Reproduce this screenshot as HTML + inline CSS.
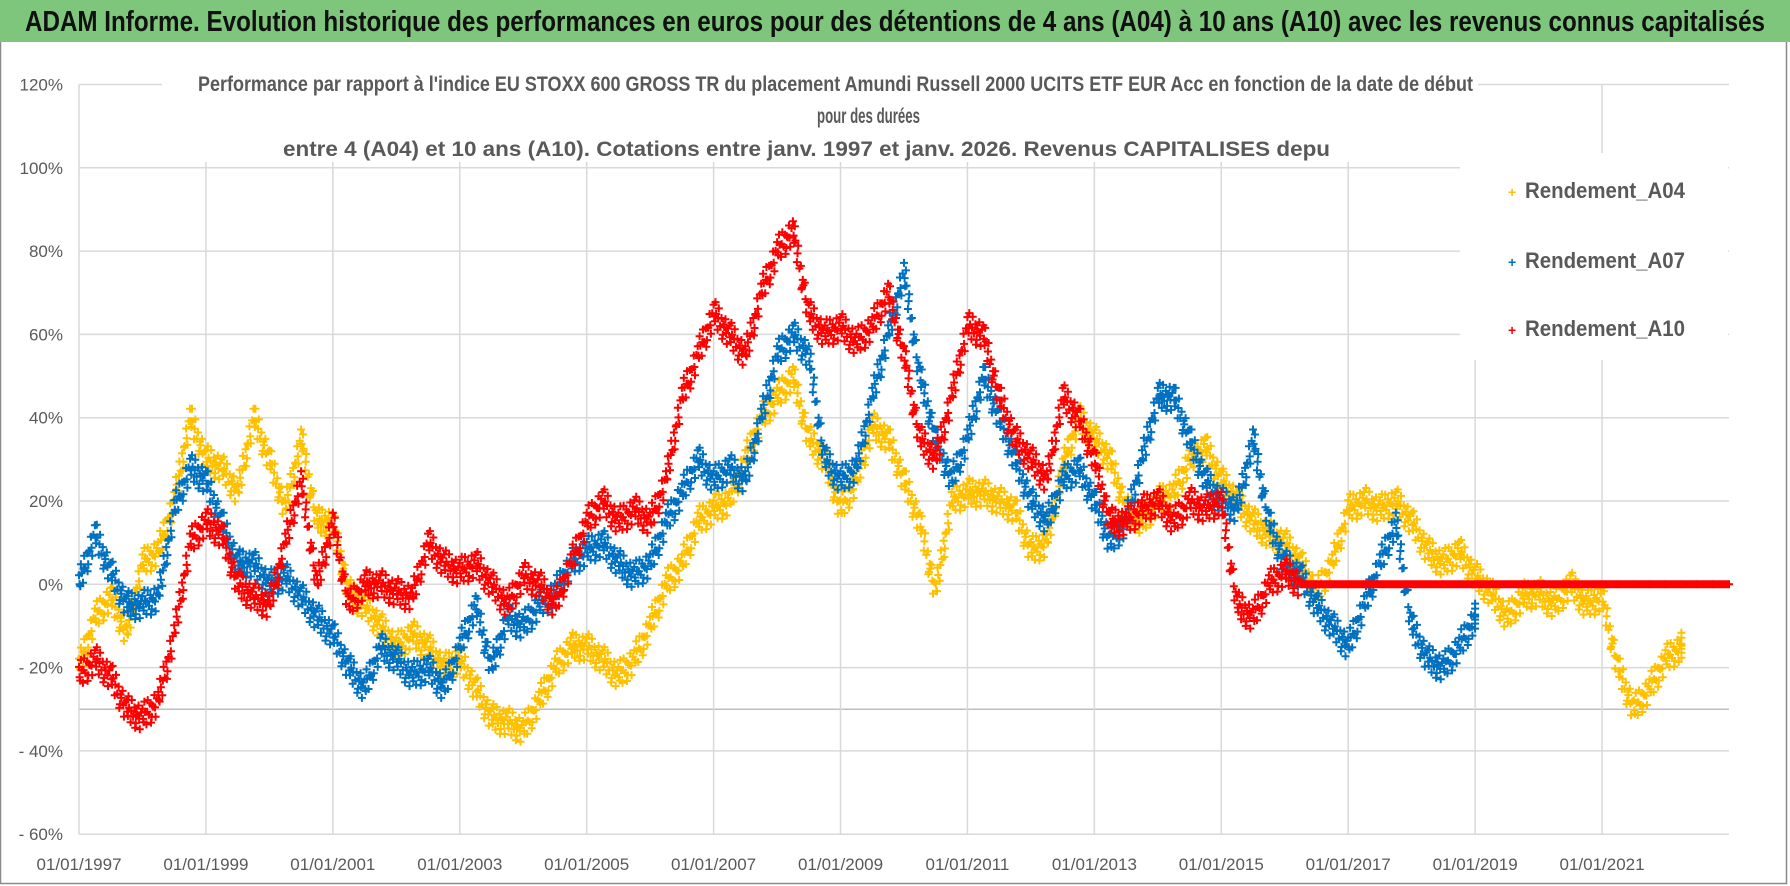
<!DOCTYPE html>
<html><head><meta charset="utf-8"><style>
html,body{margin:0;padding:0;background:#fff;}
svg{display:block;font-family:"Liberation Sans",sans-serif;}
</style></head><body>
<svg id="chart" width="1790" height="886" viewBox="0 0 1790 886" xmlns="http://www.w3.org/2000/svg">
<rect x="0" y="0" width="1790" height="886" fill="#fff"/>
<rect x="0.5" y="0.5" width="1786" height="883" fill="none" stroke="#8a8a8a" stroke-width="1.5"/>
<rect x="0" y="0" width="1790" height="42" fill="#7dc67b"/>
<text x="25" y="31" font-size="29" font-weight="bold" fill="#111" textLength="1740" lengthAdjust="spacingAndGlyphs">ADAM Informe. Evolution historique des performances en euros pour des détentions de 4 ans (A04) à 10 ans (A10) avec les revenus connus capitalisés</text>
<g id="grid"></g>
<g id="marks"></g>
<rect x="162" y="62" width="1316" height="100" fill="#fff"/>
<g font-weight="bold" fill="#595959" font-size="21">
<text x="198" y="91" textLength="1275" lengthAdjust="spacingAndGlyphs">Performance par rapport à l'indice EU STOXX 600 GROSS TR  du placement Amundi Russell 2000 UCITS ETF EUR Acc en fonction de la date de début</text>
<text x="817" y="123" textLength="103" lengthAdjust="spacingAndGlyphs">pour des durées</text>
<text x="283" y="156" textLength="1047" lengthAdjust="spacingAndGlyphs" font-size="21">entre 4 (A04) et 10 ans (A10). Cotations entre janv. 1997 et janv. 2026. Revenus CAPITALISES depu</text>
</g>
<rect x="1460" y="153" width="268" height="207" fill="#fff"/>
<g font-size="22" font-weight="bold" fill="#595959">
<g><text x="1508" y="197" fill="#ffc000" font-size="14">+</text><text x="1525" y="198" textLength="160" lengthAdjust="spacingAndGlyphs">Rendement_A04</text></g>
<g><text x="1508" y="267" fill="#0070c0" font-size="14">+</text><text x="1525" y="268" textLength="160" lengthAdjust="spacingAndGlyphs">Rendement_A07</text></g>
<g><text x="1508" y="335" fill="#ff0000" font-size="14">+</text><text x="1525" y="336" textLength="160" lengthAdjust="spacingAndGlyphs">Rendement_A10</text></g>
</g>
<g id="axes"></g>
</svg>
<script>
const yTicks=[120,100,80,60,40,20,0,-20,-40,-60];
const yTickLabels=["120%","100%","80%","60%","40%","20%","0%","- 20%","- 40%","- 60%"];
const xTicks=[1997,1999,2001,2003,2005,2007,2009,2011,2013,2015,2017,2019,2021];
const xTickLabels=["01/01/1997","01/01/1999","01/01/2001","01/01/2003","01/01/2005","01/01/2007","01/01/2009","01/01/2011","01/01/2013","01/01/2015","01/01/2017","01/01/2019","01/01/2021"];
const startA04=1997, startA07=1997, startA10=1997;
const stepYears=0.25;
const a04=[-20,-8,-3,-12,5,8,20,40,30,28,22,40,30,18,35,15,15,-2,-5,-10,-15,-12,-15,-20,-18,-25,-32,-33,-35,-28,-20,-15,-15,-18,-22,-18,-10,0,5,15,18,20,30,40,45,50,35,30,18,25,38,35,25,15,-2,20,22,22,20,18,8,10,28,40,35,30,18,15,20,22,30,33,25,20,15,12,10,5,-2,5,18,20,18,20,15,8,5,8,2,-2,-8,-3,-2,-5,0,-5,-3,-20,-30,-25,-18,-15];
const a07=[0,12,3,-5,-5,-3,18,28,25,15,5,5,0,2,-3,-8,-12,-20,-25,-15,-18,-22,-20,-25,-15,-5,-20,-8,-10,-5,-2,5,8,10,5,2,5,15,22,30,25,28,25,40,55,60,55,30,25,28,45,60,75,50,35,25,35,50,40,30,20,15,25,28,20,10,15,30,45,45,35,25,20,18,35,15,5,2,-5,-10,-15,-5,5,15,-10,-18,-20,-15,-8];
const a10=[-22,-18,-22,-30,-32,-28,-12,10,15,12,0,-3,-5,10,25,0,15,-5,0,0,-2,-3,10,5,3,5,0,-5,2,0,-5,5,15,20,15,18,15,25,45,55,65,60,55,70,80,85,65,60,62,58,62,70,55,35,30,45,62,60,45,35,30,25,45,40,30,15,15,18,20,15,20,18,20,-5,-8,0,3,0,0,0,0,0,0,0,0,0,0,0,0,0,0,0,0,0,0,0,0,0,0,0,0,0,0,0,0];

const NS="http://www.w3.org/2000/svg";
const X0=79, PXY=63.46, Y0=584.3, PXV=4.165;
function xScale(yr){return X0+(yr-1997)*PXY;}
function yScale(v){return Y0-v*PXV;}
const grid=document.getElementById('grid'), axes=document.getElementById('axes'), marks=document.getElementById('marks');
function mk(tag,attrs,parent){const e=document.createElementNS(NS,tag);for(const k in attrs)e.setAttribute(k,attrs[k]);parent.appendChild(e);return e;}
yTicks.forEach((v,i)=>{
  const l=mk('line',{x1:X0,x2:1729,y1:yScale(v),y2:yScale(v),stroke:'#d9d9d9','stroke-width':1.5},grid);
  
  
  const t=mk('text',{x:63,y:yScale(v)+6,'text-anchor':'end','font-size':17,fill:'#595959'},axes);
  t.textContent=yTickLabels[i];
  
  
});
const l30=mk('line',{x1:X0,x2:1729,y1:yScale(-30),y2:yScale(-30),stroke:'#bfbfbf','stroke-width':1.5},grid);


xTicks.forEach((yr,i)=>{
  const l=mk('line',{x1:xScale(yr),x2:xScale(yr),y1:yScale(120),y2:yScale(-60),stroke:'#d9d9d9','stroke-width':1.5},grid);
  
  
  const t=mk('text',{x:xScale(yr),y:870,'text-anchor':'middle','font-size':17,fill:'#595959'},axes);
  t.textContent=xTickLabels[i];
  
  
});
// marker placement pattern along each segment (style, not data)
const pat=[[0,-9],[0.08,6],[0.16,-3],[0.25,11],[0.33,-12],[0.41,4],[0.5,-6],[0.58,9],[0.66,0],[0.75,-10],[0.83,13],[0.91,-4],[0.04,2],[0.29,-1],[0.54,14],[0.79,3],[0.12,-14],[0.62,-2]];
function drawSeries(vals,start,color,name,flatFrom){
  const g=mk('g',{stroke:color,'stroke-width':2,fill:'none'},marks);
  
  
  vals.forEach((v,i)=>{
    const x1=xScale(start+i*stepYears), y1=yScale(v);
    const hasNext=i<vals.length-1;
    const x2=hasNext?xScale(start+(i+1)*stepYears):x1, y2=hasNext?yScale(vals[i+1]):y1;
    const flat=(flatFrom!==undefined&&i>=flatFrom);
    let d='';
    pat.forEach(p=>{
      if(!hasNext&&p[0]>0.3)return;
      const px=x1+(x2-x1)*p[0], py=y1+(y2-y1)*p[0]+(flat?0:p[1]);
      d+=`M${(px-4).toFixed(1)} ${py.toFixed(1)}h8M${px.toFixed(1)} ${(py-4).toFixed(1)}v8`;
    });
    mk('path',{d:d},g);
  });
}
drawSeries(a04,startA04,'#ffc000','series-a04');
drawSeries(a07,startA07,'#0070c0','series-a07');
drawSeries(a10,startA10,'#ff0000','series-a10',77);
</script>
</body></html>
